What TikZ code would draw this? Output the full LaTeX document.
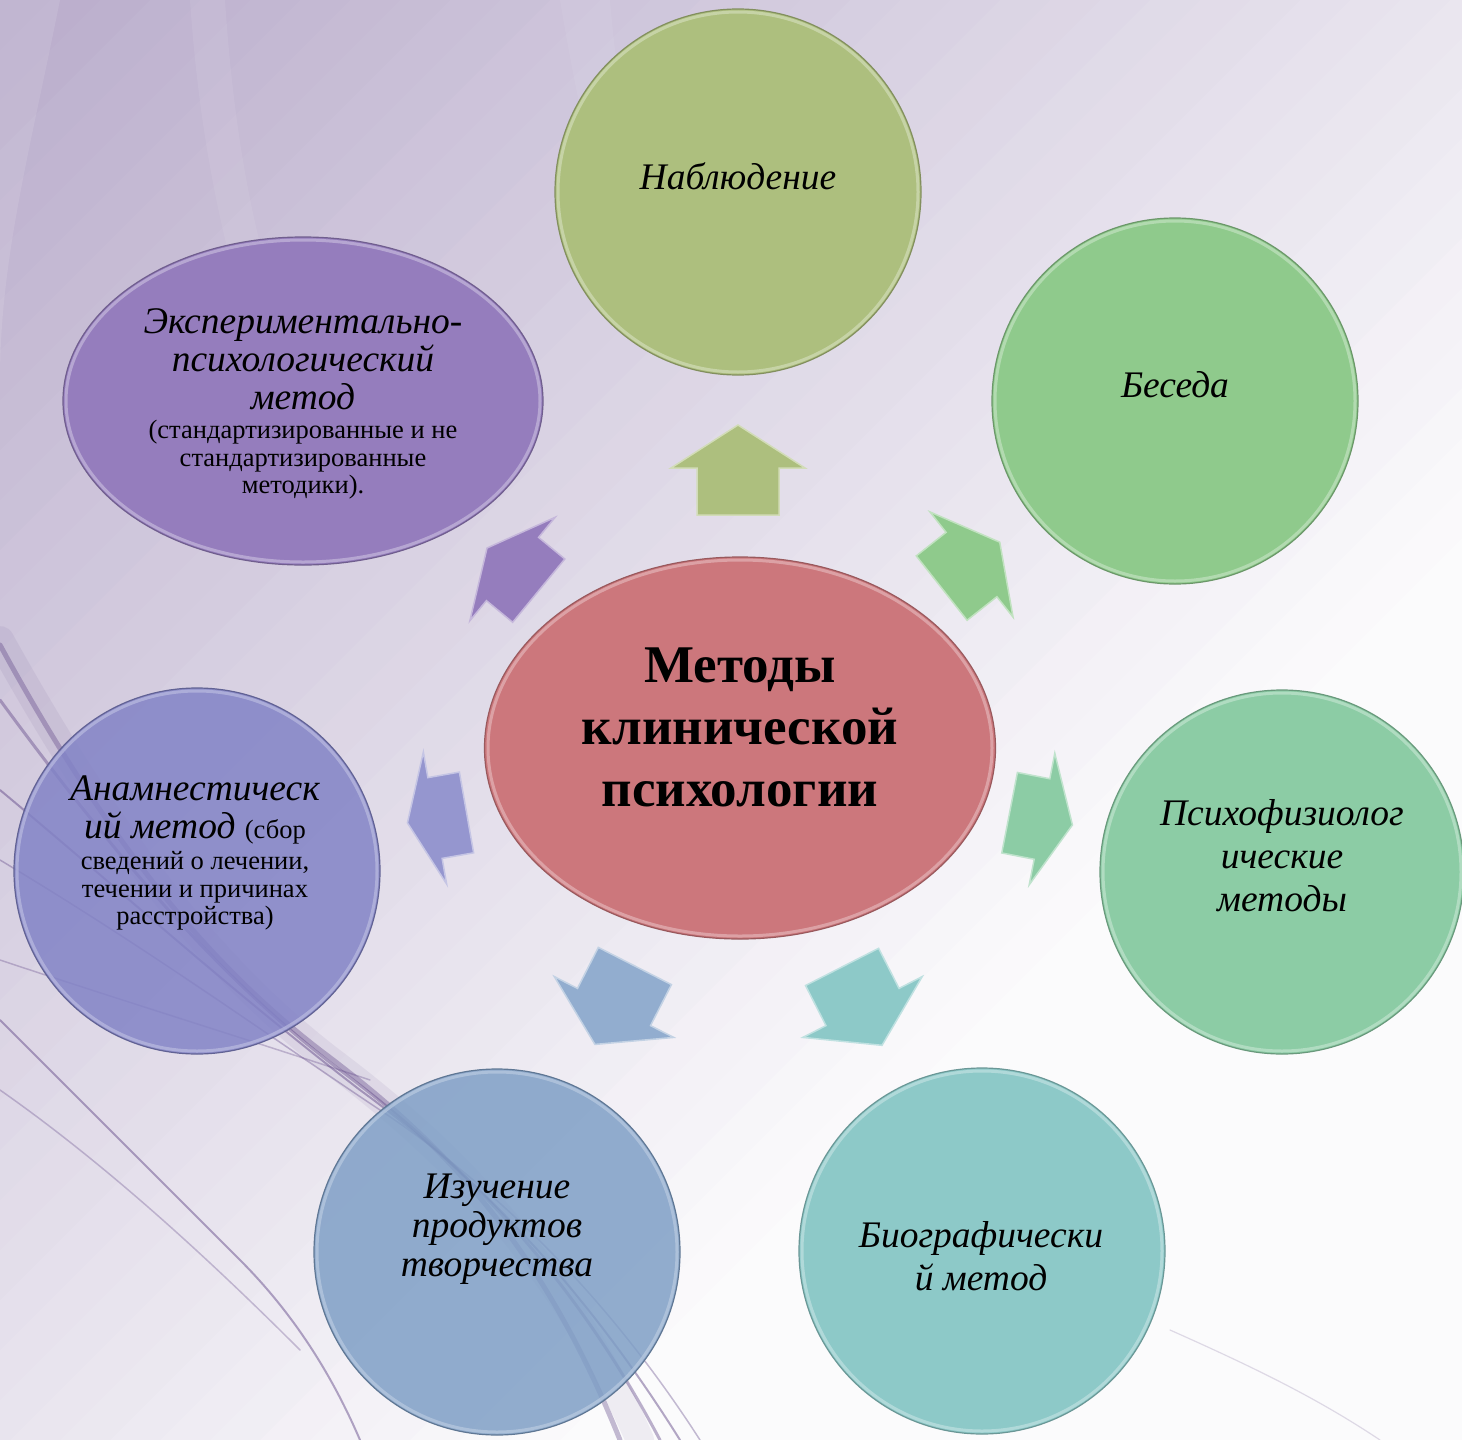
\documentclass[tikz,border=0pt]{standalone}
\usepackage{fontspec}
\setmainfont{Liberation Serif}
\usetikzlibrary{shapes.geometric}
\definecolor{bglav}{HTML}{B9ACCB}
\definecolor{streakc}{HTML}{5A3F82}
\definecolor{cNab}{HTML}{ADBF7E}
\definecolor{cBes}{HTML}{8FCA8C}
\definecolor{cPsy}{HTML}{8CCCA5}
\definecolor{cBio}{HTML}{8DC9C8}
\definecolor{cIzu}{HTML}{7F9FC6}
\definecolor{cAna}{HTML}{8283C6}
\definecolor{cExp}{HTML}{957DBD}
\definecolor{cCen}{HTML}{CC777C}
\newcommand\bigit{\itshape\fontsize{37.5}{43}\selectfont}
\newcommand\midit{\itshape\fontsize{37.5}{38}\selectfont}
\newcommand\smallrm{\upshape\fontsize{26.5}{27.5}\selectfont}
\tikzset{
  bubble/.style={circle, inner sep=0pt, line width=1.2pt},
  oval/.style={ellipse, inner sep=0pt, line width=1.2pt},
  rim/.style={line width=3pt, opacity=.7},
  lbl/.style={align=center, inner sep=0pt, text=black},
  streak/.style={draw=streakc, line cap=round},
  pics/blockarr/.style n args={3}{code={
    \fill[#3, draw=#3!55!white, line width=1.5pt]
      (#1,0) -- (0,67) -- (0,41) -- (-#2,41) -- (-#2,-41) -- (0,-41) -- (0,-67) -- cycle;
  }}
}
\begin{document}
\begin{tikzpicture}[x=1pt,y=-1pt]
\useasboundingbox (0,0) rectangle (1462,1440);
% background
\begin{scope}
\clip (0,0) rectangle (1462,1440);
\foreach \i in {0,...,58} {
  \pgfmathtruncatemacro\f{max(5,100-(\i*50+25)*0.047)}
  \fill[bglav!\f!white] (\i*50,0) -- (\i*50+52,0) -- (\i*50+52-1500,1500) -- (\i*50-1500,1500) -- cycle;
}
\fill[white, opacity=.10] (60,0) .. controls (30,150) and (0,260) .. (0,380) -- (0,0) -- cycle;
\fill[white, opacity=.07] (190,0) .. controls (200,150) and (230,300) .. (290,430) -- (330,430) .. controls (260,300) and (235,150) .. (225,0) -- cycle;
\fill[white, opacity=.06] (560,0) .. controls (580,120) and (600,200) .. (620,260) -- (660,260) .. controls (640,200) and (620,120) .. (610,0) -- cycle;
% streaks
\draw[streak, line width=28pt, opacity=.08] (0,640) .. controls (100,820) and (200,960) .. (330,1060) .. controls (450,1150) and (560,1260) .. (640,1440);
\draw[streak, line width=5pt, opacity=.35] (0,645) .. controls (90,810) and (190,950) .. (320,1050) .. controls (440,1140) and (540,1240) .. (620,1440);
\draw[streak, line width=3pt, opacity=.4] (0,700) .. controls (110,850) and (220,980) .. (340,1070) .. controls (460,1160) and (570,1270) .. (660,1440);
\draw[streak, line width=2pt, opacity=.45] (0,790) .. controls (120,890) and (230,990) .. (360,1090) .. controls (470,1170) and (580,1280) .. (680,1440);
\draw[streak, line width=1.5pt, opacity=.35] (0,860) .. controls (150,950) and (260,1030) .. (380,1110) .. controls (500,1190) and (610,1300) .. (700,1440);
\draw[streak, line width=1.5pt, opacity=.3] (0,960) .. controls (120,1000) and (250,1040) .. (370,1080);
\draw[streak, line width=2pt, opacity=.45] (0,1020) .. controls (80,1100) and (160,1180) .. (240,1260) .. controls (290,1310) and (330,1370) .. (360,1440);
\draw[streak, line width=1.5pt, opacity=.3] (0,1090) .. controls (100,1160) and (200,1250) .. (300,1350);
\draw[streak, line width=1.2pt, opacity=.18] (1170,1330) .. controls (1260,1370) and (1320,1400) .. (1380,1440);
\end{scope}
% arrows
\pic[rotate=90]    (arNab) at (738,468)     {blockarr={43}{47}{cNab}};
\pic[rotate=38.3]  (arBes) at (971.5,564.5) {blockarr={36}{38}{cBes}};
\pic[rotate=-11]   (arPsy) at (1042,819)    {blockarr={31}{33}{cPsy}};
\pic[rotate=-63]   (arBio) at (862.5,1007)  {blockarr={43}{45}{cBio}};
\pic[rotate=-117]  (arIzu) at (614,1007)    {blockarr={42}{46}{cIzu!85!white}};
\pic[rotate=190]   (arAna) at (435,818)     {blockarr={28}{32}{cAna!85!white}};
\pic[rotate=140.5] (arExp) at (512.5,569)   {blockarr={33}{34}{cExp}};
% bubbles
\node[bubble, fill=cNab, draw=cNab!75!black, minimum size=366] (nab) at (738,192) {};
\draw[rim, cNab!55!white] (nab.center) circle[radius=180];
\node[bubble, fill=cBes, draw=cBes!75!black, minimum size=366] (bes) at (1175,401) {};
\draw[rim, cBes!55!white] (bes.center) circle[radius=180];
\node[bubble, fill=cPsy, draw=cPsy!75!black, minimum size=364] (psy) at (1282,872) {};
\draw[rim, cPsy!55!white] (psy.center) circle[radius=179];
\node[bubble, fill=cBio, draw=cBio!75!black, minimum size=366] (bio) at (982,1251) {};
\draw[rim, cBio!55!white] (bio.center) circle[radius=180];
\node[bubble, fill=cIzu, fill opacity=.85, draw=cIzu!75!black, minimum size=366] (izu) at (497,1252) {};
\draw[rim, cIzu!55!white] (izu.center) circle[radius=180];
\node[bubble, fill=cAna, fill opacity=.85, draw=cAna!75!black, minimum size=366] (ana) at (197,871) {};
\draw[rim, cAna!55!white] (ana.center) circle[radius=180];
\node[oval, fill=cExp, draw=cExp!75!black, minimum width=480, minimum height=328] (exp) at (303,401) {};
\draw[rim, cExp!55!white] (exp.center) ellipse[x radius=237, y radius=161];
\node[oval, fill=cCen, draw=cCen!75!black, minimum width=511, minimum height=382] (cen) at (740,748) {};
\draw[rim, cCen!55!white] (cen.center) ellipse[x radius=252, y radius=188];
% texts
\node[lbl, font=\bigit] (tNab) at (738,176) {Наблюдение};
\node[lbl, font=\bigit] (tBes) at (1175,385) {Беседа};
\node[lbl, font=\bigit] (tPsy) at (1282,856) {Психофизиолог\\ические\\методы};
\node[lbl, font=\bigit] (tBio) at (981,1256) {Биографически\\й метод};
\node[lbl, font=\itshape\fontsize{37.5}{39}\selectfont] (tIzu) at (497,1229) {Изучение\\продуктов\\творчества};
\node[lbl, font=\midit] (tExpA) at (303,359) {Экспериментально-\\психологический\\метод};
\node[lbl, font=\smallrm] (tExpB) at (303,460) {(стандартизированные и не\\стандартизированные\\методики).};
\node[lbl, font=\midit] (tAnaA) at (195,810) {Анамнестическ\\ий метод {\smallrm(сбор}};
\node[lbl, font=\smallrm] (tAnaB) at (195,891) {сведений о лечении,\\течении и причинах\\расстройства)};
\node[lbl, font=\bfseries\fontsize{53}{62}\selectfont] (tCen) at (740,727) {Методы\\клинической\\психологии};
\end{tikzpicture}
\end{document}
